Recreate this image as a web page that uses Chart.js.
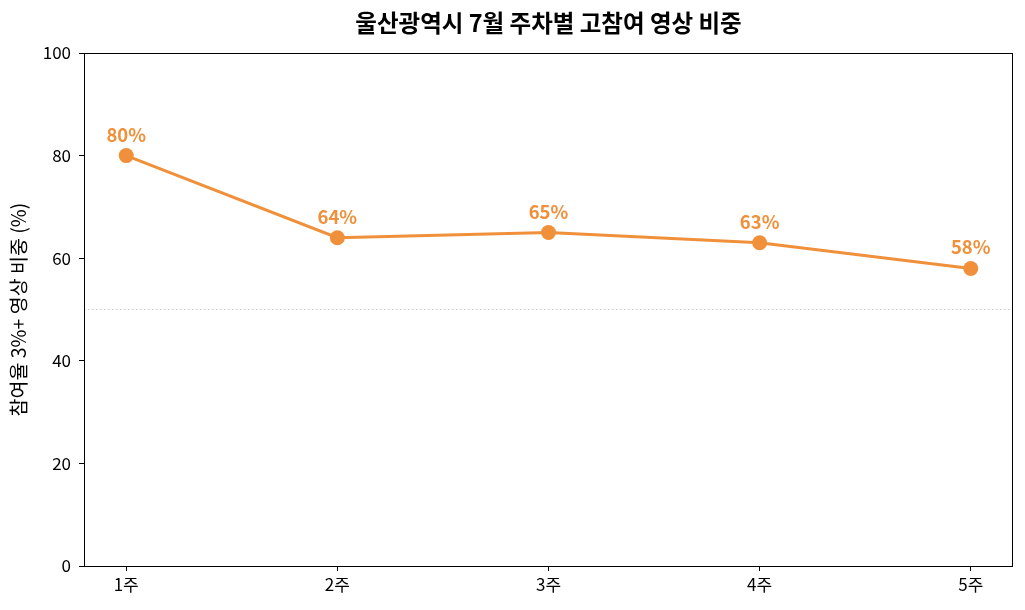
<!DOCTYPE html>
<html><head><meta charset="utf-8">
<script src="https://cdn.jsdelivr.net/npm/chart.js@4"></script>
<style>html,body{margin:0;padding:0;background:#fff}#wrap{width:1025px;height:610px}</style>
</head><body><div id="wrap"><canvas id="c" width="1025" height="610"></canvas></div>
<script>
const titleText = '울산광역시 7월 주차별 고참여 영상 비중';
const yTitle = '참여율 3%+ 영상 비중 (%)';
const categories = ['1주','2주','3주','4주','5주'];
const values = [80, 64, 65, 63, 58];
const refLine = 50;
const yTicks = [0, 20, 40, 60, 80, 100];

const FONT = "'Noto Sans CJK KR', 'Noto Sans', sans-serif";
const ORANGE = '#F0903A';

const extras = {
  id: 'extras',
  beforeDatasetsDraw(chart) {
    const {ctx, chartArea, scales} = chart;
    const y = scales.y.getPixelForValue(refLine);
    ctx.save();
    ctx.strokeStyle = '#c8c8c8';
    ctx.lineWidth = 1;
    ctx.setLineDash([1.5, 2.5]);
    ctx.beginPath();
    ctx.moveTo(chartArea.left, y);
    ctx.lineTo(chartArea.right, y);
    ctx.stroke();
    ctx.restore();
  },
  afterDraw(chart) {
    const {ctx, chartArea, scales} = chart;
    ctx.save();
    ctx.strokeStyle = '#000';
    ctx.lineWidth = 1;
    ctx.strokeRect(chartArea.left + 0.5, chartArea.top + 0.5, chartArea.right - chartArea.left - 1, chartArea.bottom - chartArea.top);
    ctx.fillStyle = '#000';
    ctx.font = "bold 23.5px " + FONT;
    ctx.textAlign = 'center';
    ctx.textBaseline = 'middle';
    ctx.fillText(titleText, (chartArea.left + chartArea.right) / 2, 23);
    ctx.fillStyle = ORANGE;
    ctx.font = "bold 18.5px " + FONT;
    values.forEach((v, i) => {
      const x = scales.x.getPixelForValue(i);
      const y = scales.y.getPixelForValue(v);
      ctx.fillText(v + '%', x, y - 21);
    });
    ctx.restore();
  }
};

new Chart(document.getElementById('c'), {
  type: 'line',
  data: {
    datasets: [{
      data: values.map((v, i) => ({x: i, y: v})),
      borderColor: ORANGE,
      backgroundColor: ORANGE,
      borderWidth: 3,
      pointRadius: 7.5,
      pointHoverRadius: 7.5,
      pointBorderWidth: 0,
      tension: 0
    }]
  },
  options: {
    responsive: false,
    animation: false,
    devicePixelRatio: 1,
    layout: {padding: {top: 53, right: 12, left: 0, bottom: 0}},
    plugins: {legend: {display: false}, tooltip: {enabled: false}, title: {display: false}},
    scales: {
      x: {
        type: 'linear',
        min: -0.2, max: 4.2,
        afterBuildTicks(s) { s.ticks = categories.map((c, i) => ({value: i})); },
        afterFit(s) { s.height = 44; },
        ticks: {
          callback: (v) => categories[v] ?? '',
          color: '#000',
          font: {family: FONT, size: 17},
          padding: 3,
          maxRotation: 0
        },
        grid: {drawOnChartArea: false, tickLength: 5, color: '#000', tickColor: '#000'},
        border: {display: false}
      },
      y: {
        min: 0, max: 100,
        afterBuildTicks(s) { s.ticks = yTicks.map(v => ({value: v})); },
        afterFit(s) { s.width = 84; },
        ticks: {color: '#000', font: {family: FONT, size: 17}, padding: 8},
        grid: {drawOnChartArea: false, tickLength: 5, color: '#000', tickColor: '#000'},
        border: {display: false},
        title: {display: true, text: yTitle, color: '#000', font: {family: FONT, size: 19.5}, padding: {top: 7, bottom: 2}}
      }
    }
  },
  plugins: [extras]
});
</script>
</body></html>
